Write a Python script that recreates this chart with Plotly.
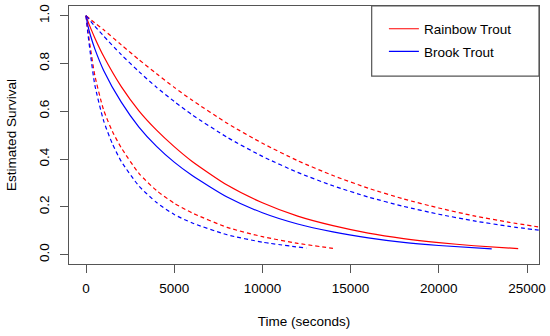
import plotly.graph_objects as go

# ---- data ----
rainbow_t = [0, 100, 250, 500, 1000, 2000, 3000, 4000, 5000, 6000, 8000, 10000,
             12000, 14000, 16000, 18000, 20000, 22000, 24500]
rainbow_s = [1.0, 0.978, 0.950, 0.907, 0.830, 0.703, 0.602, 0.521, 0.452, 0.391,
             0.291, 0.217, 0.161, 0.121, 0.090, 0.067, 0.050, 0.037, 0.025]

brook_t = [0, 100, 250, 500, 1000, 2000, 3000, 4000, 5000, 6000, 8000, 10000,
           12000, 14000, 16000, 18000, 20000, 23000]
brook_s = [1.0, 0.960, 0.918, 0.861, 0.771, 0.638, 0.534, 0.453, 0.387, 0.332,
           0.241, 0.175, 0.128, 0.095, 0.070, 0.051, 0.038, 0.0235]

upper_t = [0, 500, 1000, 2000, 3000, 4000, 5000, 6000, 8000, 10000, 12000, 14000,
           16000, 18000, 20000, 22000, 24000, 26000]
rainbow_upper = [1.0, 0.97, 0.941, 0.878, 0.816, 0.757, 0.700, 0.647, 0.550, 0.466,
                 0.393, 0.331, 0.278, 0.233, 0.195, 0.162, 0.135, 0.112]
brook_upper = [1.0, 0.956, 0.915, 0.837, 0.766, 0.700, 0.641, 0.586, 0.491, 0.411,
               0.344, 0.288, 0.241, 0.202, 0.169, 0.141, 0.118, 0.099]

rainbow_lower_t = [0, 100, 250, 500, 1000, 1500, 2000, 3000, 4000, 5000, 6000, 8000,
                   10000, 12000, 14000]
rainbow_lower = [1.0, 0.94, 0.865, 0.75, 0.605, 0.515, 0.447, 0.340, 0.268, 0.215,
                 0.175, 0.114, 0.075, 0.047, 0.026]

brook_lower_t = [0, 100, 250, 500, 1000, 1500, 2000, 3000, 4000, 5000, 6000, 8000,
                 10000, 12500]
brook_lower = [1.0, 0.93, 0.84, 0.71, 0.56, 0.463, 0.39, 0.287, 0.218, 0.168, 0.133,
               0.083, 0.052, 0.027]

x_ticks = [0, 5000, 10000, 15000, 20000, 25000]
x_ticktext = ["0", "5000", "10000", "15000", "20000", "25000"]
y_ticks = [0.0, 0.2, 0.4, 0.6, 0.8, 1.0]
y_ticktext = ["0.0", "0.2", "0.4", "0.6", "0.8", "1.0"]

RED = "#FF0000"
BLUE = "#0000FF"
FONT = "Liberation Sans, Arial, sans-serif"
FS = 13.5

fig = go.Figure()

def add(t, s, color, dash, name=None, show=False, group=None):
    fig.add_trace(go.Scatter(
        x=t, y=s, mode="lines", name=name, showlegend=show, legendgroup=group,
        line=dict(color=color, width=1.2, dash=dash, shape="spline", smoothing=0.6),
        hoverinfo="skip"))

add(rainbow_t, rainbow_s, RED, "solid", "Rainbow Trout", True, "rainbow")
add(brook_t, brook_s, BLUE, "solid", "Brook Trout", True, "brook")
add(upper_t, rainbow_upper, RED, "4px,3px", group="rainbow")
add(upper_t, brook_upper, BLUE, "4px,3px", group="brook")
add(rainbow_lower_t, rainbow_lower, RED, "4px,3px", group="rainbow")
add(brook_lower_t, brook_lower, BLUE, "4px,3px", group="brook")

axis_common = dict(
    showgrid=False, zeroline=False, showline=True, mirror=True, automargin=False,
    linecolor="#555555", linewidth=1.2,
    ticks="outside", ticklen=8, tickwidth=1.2, tickcolor="#555555",
    tickfont=dict(family=FONT, size=FS, color="black"),
)

fig.update_layout(
    width=550, height=336,
    margin=dict(l=69, r=11, t=6, b=72),
    paper_bgcolor="white", plot_bgcolor="white",
    font=dict(family=FONT, size=FS, color="black"),
    xaxis=dict(range=[-964, 25680], tickvals=x_ticks, ticktext=x_ticktext,
               ticklabelstandoff=4,
               title=dict(text="Time (seconds)", standoff=21,
                          font=dict(family=FONT, size=FS)),
               **axis_common),
    yaxis=dict(range=[-0.0394, 1.0406], tickvals=y_ticks, ticktext=y_ticktext,
               tickangle=-90, ticklabelstandoff=6,
               title=dict(text="Estimated Survival", standoff=16,
                          font=dict(family=FONT, size=FS)),
               **axis_common),
    legend=dict(x=0.670, y=0.971, xanchor="left", yanchor="top",
                bgcolor="rgba(0,0,0,0)", borderwidth=0,
                font=dict(family=FONT, size=FS, color="black"),
                itemwidth=30, tracegroupgap=2),
    shapes=[dict(type="rect", xref="paper", yref="paper",
                 x0=0.644, x1=1.0, y0=0.728, y1=1.0,
                 line=dict(color="#555555", width=1.2),
                 fillcolor="rgba(0,0,0,0)", layer="above")],
)

fig.write_html("out.html", config={"displayModeBar": False},
               post_script="document.body.style.margin='0';")
